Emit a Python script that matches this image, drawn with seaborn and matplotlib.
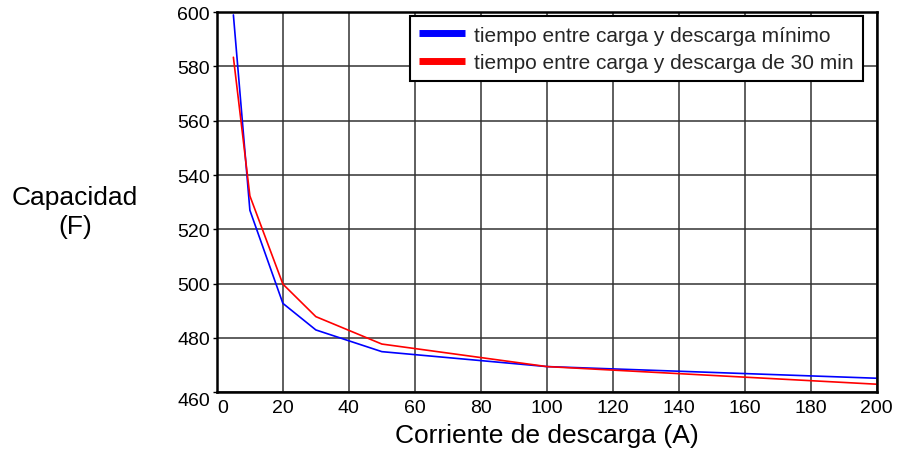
import matplotlib
matplotlib.use("Agg")
import matplotlib.pyplot as plt
import seaborn as sns
import pandas as pd

corriente = [5, 10, 20, 30, 50, 100, 200]
cap_minimo = [599, 527, 492.7, 482.9, 474.9, 469.4, 465.1]
cap_30min = [583.4, 532.3, 499.8, 487.8, 477.7, 469.4, 462.9]
serie_minimo = "tiempo entre carga y descarga mínimo"
serie_30min = "tiempo entre carga y descarga de 30 min"
x_ticks = list(range(0, 201, 20))
y_ticks = list(range(460, 601, 20))

df = pd.DataFrame({
    "Corriente": corriente * 2,
    "Capacidad": cap_minimo + cap_30min,
    "Serie": [serie_minimo] * len(corriente) + [serie_30min] * len(corriente),
})

sns.set_theme(style="white")
plt.rcParams['font.family'] = ['Liberation Sans', 'DejaVu Sans']

fig = plt.figure(figsize=(9, 4.56), dpi=100)
ax = fig.add_axes([0.241, 0.138, 0.733, 0.833])

sns.lineplot(data=df, x="Corriente", y="Capacidad", hue="Serie",
             palette={serie_minimo: "#0000ff", serie_30min: "#ff0000"},
             linewidth=1.2, ax=ax, legend=True)

ax.set_xlim(0, 200)
ax.set_ylim(460, 600)
ax.set_xticks(x_ticks)
ax.set_yticks(y_ticks)
ax.set_xticklabels([str(v) for v in x_ticks], fontsize=14, color="black")
ax.set_yticklabels([str(v) for v in y_ticks], fontsize=14, color="black")
ax.get_xticklabels()[0].set_horizontalalignment("left")
ax.get_yticklabels()[0].set_verticalalignment("top")
ax.tick_params(axis="both", which="both", length=3, width=1, color="black",
               direction="out", pad=2, left=True, bottom=False)
ax.grid(True, color="#333333", linewidth=1.1)
ax.set_axisbelow(True)
for s in ax.spines.values():
    s.set_color("black")
    s.set_linewidth(1.8)
    s.set_visible(True)

ax.set_xlabel("Corriente de descarga (A)", fontsize=19, color="black", labelpad=5)
ax.set_ylabel("Capacidad\n(F)", fontsize=19, color="black", rotation=0,
              ha="center", va="center", linespacing=1.25)
ax.yaxis.set_label_coords(-0.215, 0.476)

leg = ax.legend(loc="upper right", bbox_to_anchor=(1 - 14 / 660, 1 - 4 / 380),
                fontsize=15, frameon=True, fancybox=False,
                borderaxespad=0.0, handlelength=2.2, handletextpad=0.4,
                labelspacing=0.4, borderpad=0.45)
leg.get_frame().set_edgecolor("black")
leg.get_frame().set_linewidth(1.5)
leg.get_frame().set_alpha(1)
for h in leg.get_lines():
    h.set_linewidth(5)
    h.set_solid_capstyle("butt")

fig.savefig("out.png", dpi=100)
